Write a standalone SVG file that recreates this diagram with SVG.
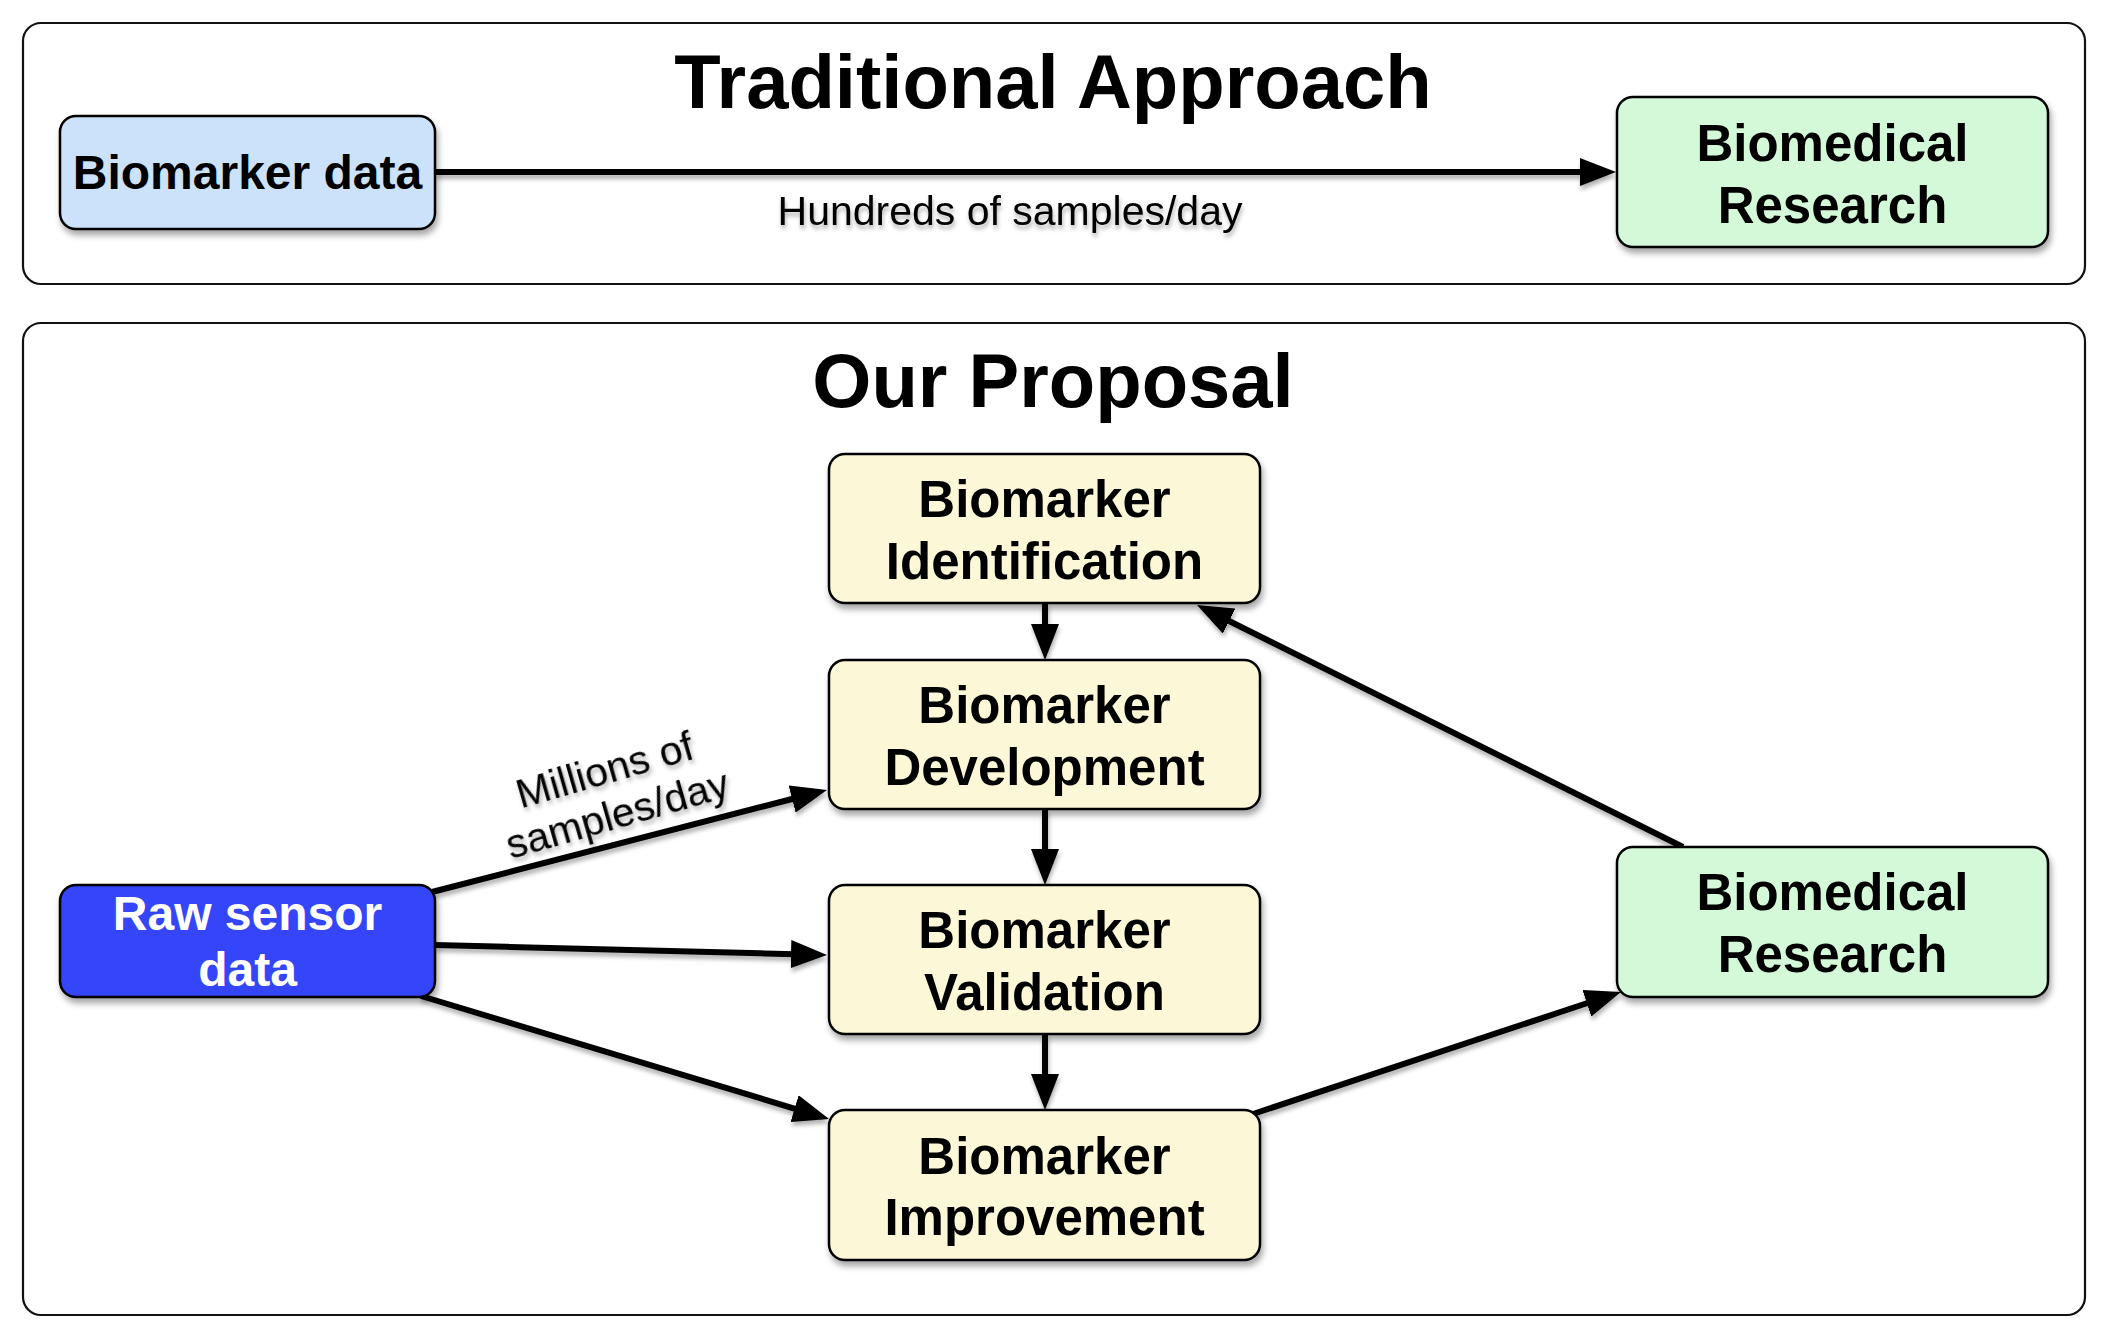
<svg xmlns="http://www.w3.org/2000/svg" width="2108" height="1339" viewBox="0 0 2108 1339">
<style>
.container{fill:#fff;stroke:#111;stroke-width:2.2}
.box{stroke:#000;stroke-width:2.5;filter:url(#shadow)}
.blue{fill:#CCE2FB}
.green{fill:#D3F9D9}
.yellow{fill:#FCF7D6}
.raw{fill:#3444F9}
.title{font-family:"Liberation Sans",Arial,sans-serif;font-weight:bold;font-size:76px;text-anchor:middle;fill:#000}
.lbl{font-family:"Liberation Sans",Arial,sans-serif;font-weight:bold;font-size:51px;text-anchor:middle;fill:#000}
.lbl48{font-family:"Liberation Sans",Arial,sans-serif;font-weight:bold;font-size:48px;text-anchor:middle;fill:#000}
.white{fill:#fff}
.edge{font-family:"Liberation Sans",Arial,sans-serif;font-size:41px;text-anchor:middle;fill:#000;filter:url(#tshadow)}
.conn{stroke:#000;stroke-width:6;fill:none;marker-end:url(#arrow)}
</style>
<defs>
<filter id="shadow" x="-10%" y="-10%" width="130%" height="140%">
<feDropShadow dx="2" dy="5" stdDeviation="3" flood-color="#000" flood-opacity="0.35"/>
</filter>
<filter id="lshadow" filterUnits="userSpaceOnUse" x="0" y="0" width="2108" height="1339">
<feDropShadow dx="1" dy="4" stdDeviation="2" flood-color="#000" flood-opacity="0.3"/>
</filter>
<filter id="tshadow" x="-10%" y="-30%" width="120%" height="170%">
<feDropShadow dx="1" dy="4" stdDeviation="2" flood-color="#000" flood-opacity="0.3"/>
</filter>
<marker id="arrow" viewBox="0 0 36 28" markerWidth="36" markerHeight="28" markerUnits="userSpaceOnUse" refX="4" refY="14" orient="auto">
<path d="M0,0 L36,14 L0,28 Z" fill="#000"/>
</marker>
</defs>
<rect width="2108" height="1339" fill="#fff"/>

<g id="traditional-panel">
<rect class="container" x="23" y="23" width="2062" height="261" rx="18"/>
<text class="title" x="1053" y="108">Traditional Approach</text>
</g>
<g id="proposal-panel">
<rect class="container" x="23" y="323" width="2062" height="992" rx="18"/>
<text class="title" x="1053" y="407">Our Proposal</text>
</g>

<g id="connectors" filter="url(#lshadow)">
<line class="conn" x1="435" y1="172" x2="1584" y2="172"/>
<line class="conn" x1="1045" y1="603" x2="1045" y2="628"/>
<line class="conn" x1="1045" y1="809" x2="1045" y2="853"/>
<line class="conn" x1="1045" y1="1034" x2="1045" y2="1078"/>
<line class="conn" x1="432" y1="892" x2="796" y2="798"/>
<line class="conn" x1="435" y1="945" x2="795" y2="954.2"/>
<line class="conn" x1="421" y1="996" x2="798.4" y2="1109.8"/>
<line class="conn" x1="1253" y1="1114" x2="1590.6" y2="1002"/>
<line class="conn" x1="1683" y1="847" x2="1225.6" y2="619.3"/>
</g>
<g id="connector-labels">
<text class="edge" x="1010" y="225">Hundreds of samples/day</text>
<g transform="translate(611,792) rotate(-16)">
<text class="edge" x="0" y="-9">Millions of</text>
<text class="edge" x="0" y="37">samples/day</text>
</g>
</g>

<g id="biomarker-data">
<rect class="box blue" x="60" y="116" width="375" height="113" rx="16"/>
<text class="lbl48" x="247.5" y="189">Biomarker data</text>
</g>
<g id="biomedical-research-top">
<rect class="box green" x="1617" y="97" width="431" height="150" rx="16"/>
<text class="lbl" x="1832.5" y="161">Biomedical</text>
<text class="lbl" x="1832.5" y="223">Research</text>
</g>

<g id="biomarker-identification">
<rect class="box yellow" x="829" y="454" width="431" height="149" rx="16"/>
<text class="lbl" x="1044.5" y="517">Biomarker</text>
<text class="lbl" x="1044.5" y="579">Identification</text>
</g>
<g id="biomarker-development">
<rect class="box yellow" x="829" y="660" width="431" height="149" rx="16"/>
<text class="lbl" x="1044.5" y="723">Biomarker</text>
<text class="lbl" x="1044.5" y="785">Development</text>
</g>
<g id="biomarker-validation">
<rect class="box yellow" x="829" y="885" width="431" height="149" rx="16"/>
<text class="lbl" x="1044.5" y="948">Biomarker</text>
<text class="lbl" x="1044.5" y="1010">Validation</text>
</g>
<g id="biomarker-improvement">
<rect class="box yellow" x="829" y="1110" width="431" height="150" rx="16"/>
<text class="lbl" x="1044.5" y="1174">Biomarker</text>
<text class="lbl" x="1044.5" y="1235">Improvement</text>
</g>
<g id="raw-sensor-data">
<rect class="box raw" x="60" y="885" width="375" height="112" rx="16"/>
<text class="lbl48 white" x="247.5" y="930">Raw sensor</text>
<text class="lbl48 white" x="247.5" y="986">data</text>
</g>
<g id="biomedical-research">
<rect class="box green" x="1617" y="847" width="431" height="150" rx="16"/>
<text class="lbl" x="1832.5" y="910">Biomedical</text>
<text class="lbl" x="1832.5" y="972">Research</text>
</g>
</svg>
